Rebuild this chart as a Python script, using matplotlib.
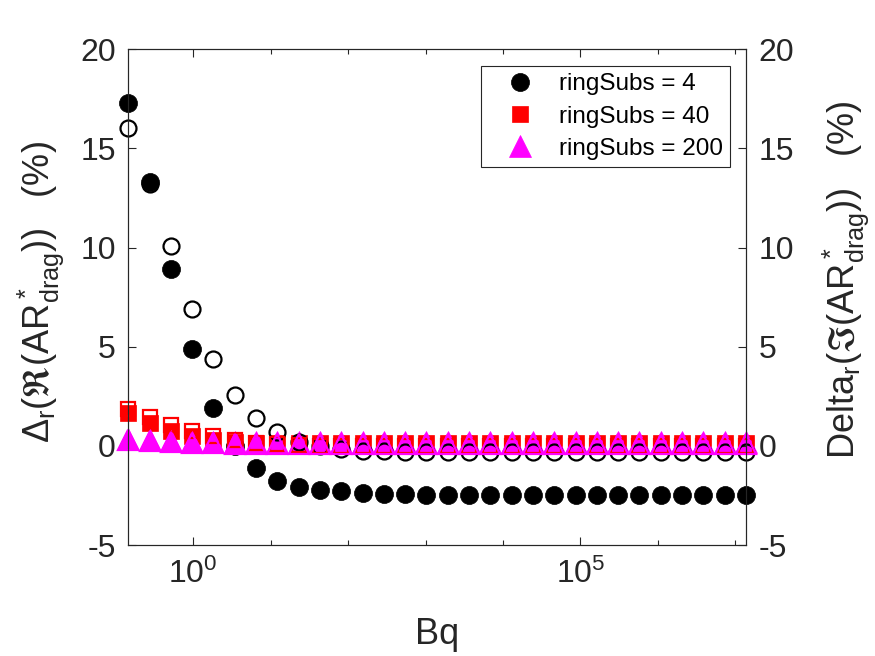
import matplotlib
matplotlib.use("Agg")
import matplotlib.pyplot as plt
from matplotlib.ticker import FixedLocator, NullFormatter, LogFormatterSciNotation

plt.rcParams['font.family'] = ['Liberation Sans', 'DejaVu Sans']
plt.rcParams['mathtext.fontset'] = 'custom'
plt.rcParams['mathtext.rm'] = 'Liberation Sans'
plt.rcParams['mathtext.it'] = 'Liberation Sans:italic'
plt.rcParams['mathtext.default'] = 'regular'

# Bq values (log spaced in the original run)
bq = [0.1449, 0.2729, 0.5140, 0.9683, 1.824, 3.436, 6.471, 12.19, 22.96, 43.25,
      81.47, 153.5, 289.1, 544.5, 1026, 1932, 3639, 6855, 1.291e4, 2.432e4,
      4.581e4, 8.630e4, 1.626e5, 3.062e5, 5.768e5, 1.086e6, 2.046e6, 3.855e6,
      7.261e6, 1.368e7]

# relative error of the real part (%) - left axis, filled markers
re_4 = [17.31, 13.33, 8.94, 4.88, 1.90, 0.0, -1.14, -1.75, -2.05, -2.22,
        -2.30, -2.38, -2.42, -2.45, -2.46, -2.47, -2.47, -2.47, -2.47, -2.47,
        -2.47, -2.47, -2.47, -2.47, -2.47, -2.47, -2.47, -2.47, -2.47, -2.47]
re_40 = [1.65, 1.13, 0.73, 0.48, 0.28, 0.20, 0.16, 0.14, 0.13, 0.13,
         0.13, 0.13, 0.13, 0.13, 0.13, 0.13, 0.13, 0.13, 0.13, 0.13,
         0.13, 0.13, 0.13, 0.13, 0.13, 0.13, 0.13, 0.13, 0.13, 0.13]
re_200 = [0.36, 0.29, 0.24, 0.21, 0.19, 0.18, 0.18, 0.18, 0.18, 0.18,
          0.18, 0.18, 0.18, 0.18, 0.18, 0.18, 0.18, 0.18, 0.18, 0.18,
          0.18, 0.18, 0.18, 0.18, 0.18, 0.18, 0.18, 0.18, 0.18, 0.18]

# relative error of the imaginary part (%) - right axis, open markers
im_4 = [16.05, 13.2, 10.09, 6.92, 4.37, 2.57, 1.40, 0.68, 0.18, -0.03,
        -0.17, -0.24, -0.28, -0.30, -0.31, -0.31, -0.31, -0.31, -0.31, -0.31,
        -0.31, -0.31, -0.31, -0.31, -0.31, -0.31, -0.31, -0.31, -0.31, -0.31]
im_40 = [1.84, 1.44, 1.05, 0.75, 0.49, 0.30, 0.16, 0.07, 0.02, -0.01,
         -0.02, -0.03, -0.03, -0.03, -0.03, -0.03, -0.03, -0.03, -0.03, -0.03,
         -0.03, -0.03, -0.03, -0.03, -0.03, -0.03, -0.03, -0.03, -0.03, -0.03]
im_200 = [0.30, 0.24, 0.19, 0.15, 0.12, 0.10, 0.09, 0.09, 0.09, 0.09,
          0.09, 0.09, 0.09, 0.09, 0.09, 0.09, 0.09, 0.09, 0.09, 0.09,
          0.09, 0.09, 0.09, 0.09, 0.09, 0.09, 0.09, 0.09, 0.09, 0.09]

labels = ['ringSubs = 4', 'ringSubs = 40', 'ringSubs = 200']
colors = ['black', 'red', 'magenta']
markers = ['o', 's', '^']
sizes = [13, 12, 15.5]
yticks = [-5, 0, 5, 10, 15, 20]

dark = '#262626'

fig = plt.figure(figsize=(8.75, 6.56), dpi=100)
ax = fig.add_axes([0.1466, 0.1692, 0.7059, 0.7557])
ax2 = ax.twinx()

handles = []
for ys, c, m, s, lab in zip([re_4, re_40, re_200], colors, markers, sizes, labels):
    h, = ax.plot(bq, ys, linestyle='none', marker=m, markersize=s, color=c,
                 markerfacecolor=c, markeredgecolor=c, markeredgewidth=0.5,
                 clip_on=False, label=lab)
    handles.append(h)

for ys, c, m, s in zip([im_4, im_40, im_200], colors, markers, sizes):
    ax2.plot(bq, ys, linestyle='none', marker=m, markersize=s - 1.5, color=c,
             markerfacecolor='none', markeredgecolor=c, markeredgewidth=1.6,
             clip_on=False)

for a in (ax, ax2):
    a.set_xscale('log')
    a.set_xlim(bq[0], bq[-1])
    a.set_ylim(-5, 20)
    a.set_yticks(yticks)
    a.set_yticklabels([str(t) for t in yticks])
    for sp in a.spines.values():
        sp.set_color(dark)
        sp.set_linewidth(0.8)

ax.xaxis.set_major_locator(FixedLocator([1, 1e5]))
ax.xaxis.set_major_formatter(LogFormatterSciNotation())
ax.xaxis.set_minor_locator(FixedLocator([1e1, 1e2, 1e3, 1e4, 1e6, 1e7]))
ax.xaxis.set_minor_formatter(NullFormatter())

ax.tick_params(axis='both', which='major', direction='in', length=6, width=0.8,
               colors=dark, labelsize=23, pad=9, top=True)
ax.tick_params(axis='x', which='minor', direction='in', length=3.5, width=0.8,
               colors=dark, top=True)
ax.tick_params(axis='x', which='major', pad=10)
ax2.tick_params(axis='y', which='major', direction='in', length=6, width=0.8,
                colors=dark, labelsize=23, pad=9)

ax.set_xlabel('Bq', fontsize=26, color=dark, labelpad=19)
ax.set_ylabel(r'$\Delta_r(\Re(AR^*_{drag}))$   (%)', fontsize=26, color=dark)
ax.yaxis.set_label_coords(-0.101, 0.51)
ax2.set_ylabel(r'Delta$_r$($\Im$(AR$^*_{drag}$))   (%)', fontsize=26, color=dark)
ax2.yaxis.set_label_coords(1.12, 0.535)

leg = ax2.legend(handles=handles, loc='upper right',
                 bbox_to_anchor=(0.975, 0.966), borderaxespad=0,
                 fontsize=17.5, frameon=True, fancybox=False, framealpha=1,
                 edgecolor=dark, borderpad=0.3, labelspacing=0.42,
                 handlelength=2.6, handletextpad=0.3)
leg.get_frame().set_linewidth(0.8)
for t in leg.get_texts():
    t.set_color('black')

fig.savefig('out.png', dpi=100)
